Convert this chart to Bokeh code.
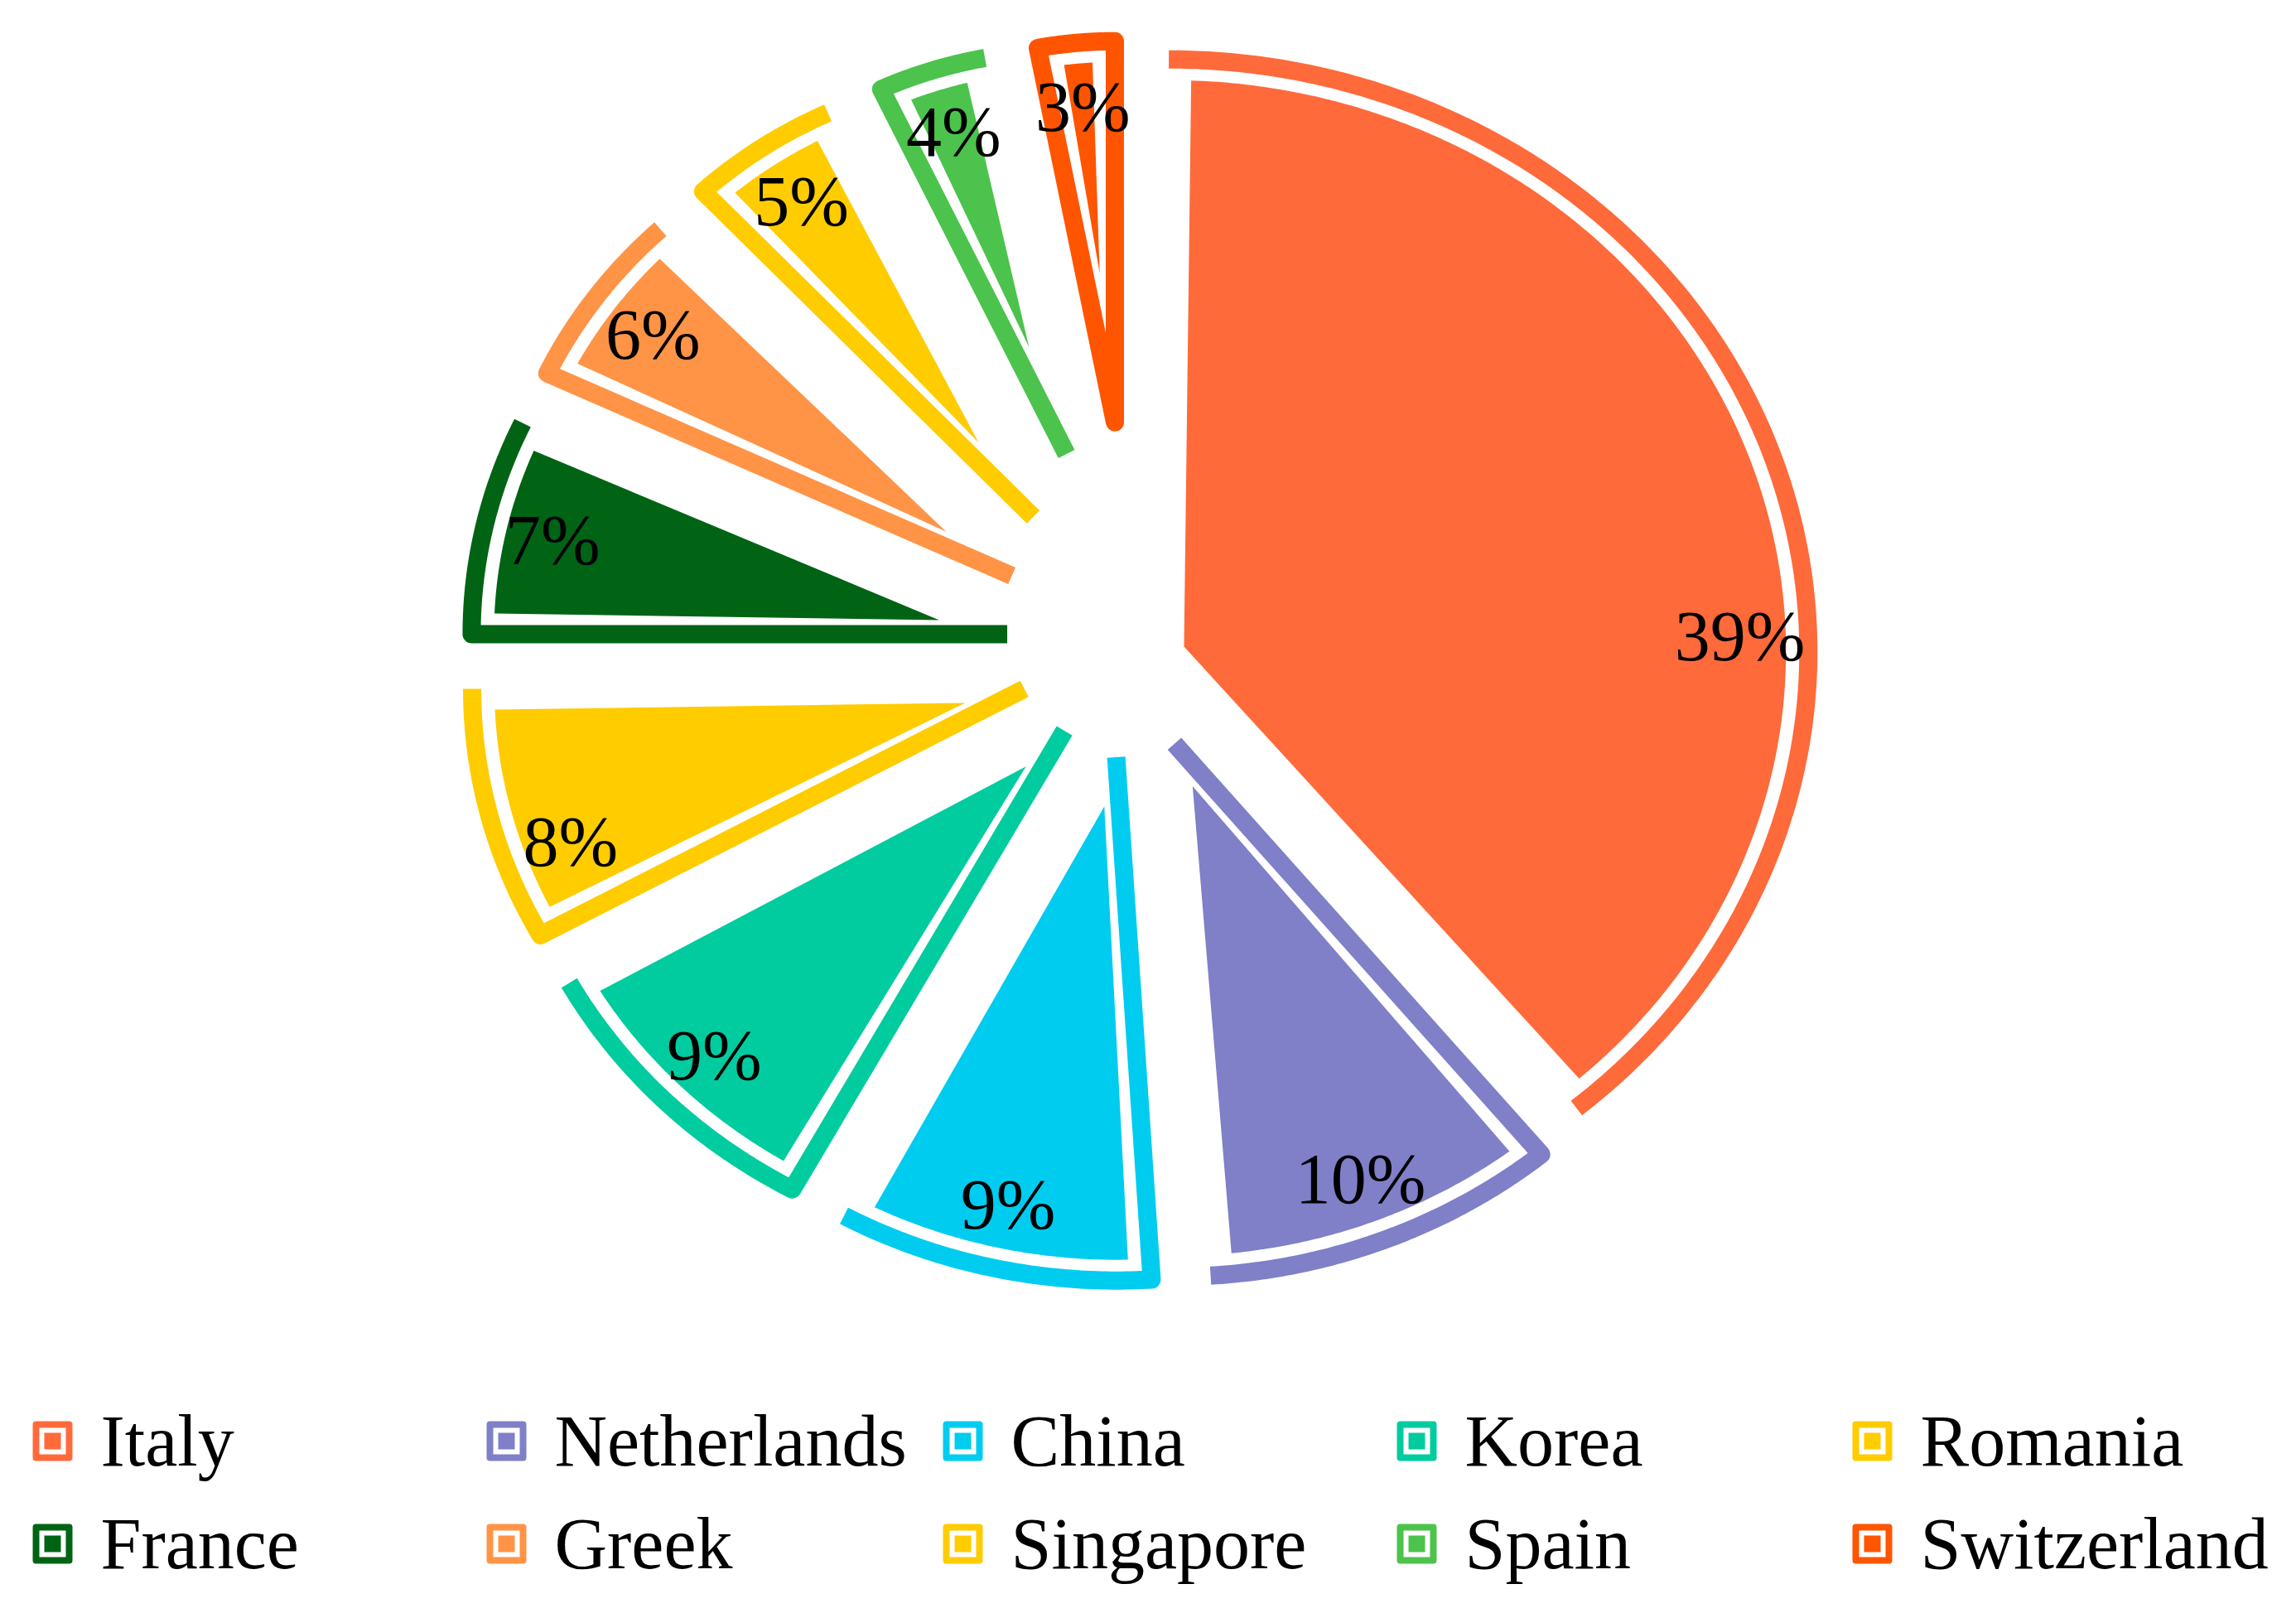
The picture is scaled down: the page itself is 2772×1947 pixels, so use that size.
import numpy as np
from bokeh.plotting import figure
from bokeh.models import Range1d, ColumnDataSource
from bokeh.core.properties import value
from bokeh.embed import file_html
from bokeh.resources import INLINE

# ---------------- data ----------------
countries = ["Italy", "Netherlands", "China", "Korea", "Romania",
             "France", "Greek", "Singapore", "Spain", "Switzerland"]
shares = [39, 10, 9, 9, 8, 7, 6, 5, 4, 3]
pct_labels = ["39%", "10%", "9%", "9%", "8%", "7%", "6%", "5%", "4%", "3%"]

# ---------------- style / layout ----------------
colors = ["#FF6A3B", "#7F80C8", "#00CCF0", "#00CC9F", "#FFCC00",
          "#006414", "#FF9447", "#FFCC00", "#4CC34C", "#FF5500"]
PW, PH = 2756, 1931          # figure size in px
SX = 1.08                    # horizontal stretch of the pie
CX_REF, CY_REF = 1383, 806   # pie centre on the page
R_OUT = 750                  # outer reach of slice outlines
EXPLODE_GAP = 33             # explosion: constant gap between slices
EXPLODE_MAX = 290
BAND_W = 22                  # outline band width
ARC_INSET = 25               # fill inset from outline centre line
TIP_INSET = 17
TIP_CAP = 0.4
LABEL_R = 672
label_angle_adjust = [17.2, 0, 0, 0, -4.5, 0, 0, 0, 0, 0]
outline_style = ["arc", "open", "open", "open", "open", "open", "open", "open", "open", "closed"]
legend_marker_x = [71, 619, 1170, 1718, 2268]
legend_text_dx = 58
legend_row_y = [1747, 1871]
SERIF = "Liberation Serif"


def u(deg):
    r = np.radians(deg)
    return np.array([np.sin(r), np.cos(r)])


def to_dx(xref):
    return (xref - CX_REF) / SX


def to_dy(yref):
    return CY_REF - yref


vals = np.array(shares, dtype=float)
ends = 360.0 * np.cumsum(vals) / vals.sum()
starts = ends - 360.0 * vals / vals.sum()

open_xs, open_ys, open_cols = [], [], []
closed_xs, closed_ys, closed_cols = [], [], []
fill_xs, fill_ys = [], []
lab_x, lab_y = [], []

for i in range(len(shares)):
    ts, te = starts[i], ends[i]
    half = (te - ts) / 2.0
    tb = ts + half
    sa = np.sin(np.radians(half))
    e = min(EXPLODE_GAP / sa, EXPLODE_MAX)
    P = e * u(tb)
    Ro = R_OUT - e
    n = max(int((te - ts) * 2), 12)
    th = np.linspace(ts, te, n)
    arc = np.array([P + Ro * u(t) for t in th])
    style = outline_style[i]
    if style == "arc":
        pts = arc
    else:
        pts = np.vstack([P, arc])
    if style == "closed":
        closed_xs.append(list(pts[:, 0])); closed_ys.append(list(pts[:, 1])); closed_cols.append(colors[i])
    else:
        open_xs.append(list(pts[:, 0])); open_ys.append(list(pts[:, 1])); open_cols.append(colors[i])

    # fill: inset wedge
    r = Ro - ARC_INSET
    d = min(TIP_INSET / sa, TIP_CAP * Ro)
    Q = P + d * u(tb)
    s = np.sqrt(r * r - ARC_INSET ** 2)
    A = P + s * u(ts) + ARC_INSET * u(ts + 90)
    B = P + s * u(te) + ARC_INSET * u(te - 90)
    phA = np.degrees(np.arctan2(A[0] - P[0], A[1] - P[1]))
    phB = np.degrees(np.arctan2(B[0] - P[0], B[1] - P[1]))
    while phA < ts - 90:
        phA += 360
    while phB < phA:
        phB += 360
    ph = np.linspace(phA, phB, n)
    farc = np.array([P + r * u(t) for t in ph])
    poly = np.vstack([Q, farc])
    fill_xs.append(list(poly[:, 0])); fill_ys.append(list(poly[:, 1]))

    L = LABEL_R * u(tb + label_angle_adjust[i])
    lab_x.append(L[0]); lab_y.append(L[1])

p = figure(width=PW, height=PH,
           x_range=Range1d(to_dx(8), to_dx(8 + PW)),
           y_range=Range1d(to_dy(8 + PH), to_dy(8)),
           x_axis_type=None, y_axis_type=None,
           output_backend="svg", toolbar_location=None, min_border=0)
p.grid.visible = False
p.outline_line_color = None
p.background_fill_color = "white"

p.multi_line(xs="xs", ys="ys", line_color="c", line_width=BAND_W,
             line_join="round", line_cap="butt",
             source=ColumnDataSource(dict(xs=open_xs, ys=open_ys, c=open_cols)))
p.patches(xs="xs", ys="ys", line_color="c", fill_color=None, line_width=BAND_W,
          line_join="round",
          source=ColumnDataSource(dict(xs=closed_xs, ys=closed_ys, c=closed_cols)))
p.patches(xs="xs", ys="ys", fill_color="c", line_color=None,
          source=ColumnDataSource(dict(xs=fill_xs, ys=fill_ys, c=colors)))

p.text(x="x", y="y", text="t", source=ColumnDataSource(dict(x=lab_x, y=lab_y, t=pct_labels)),
       text_font=value(SERIF), text_font_size="86px", text_color="black",
       text_align="center", text_baseline="middle")

# legend
mx, my, tx = [], [], []
for i in range(len(countries)):
    row, col = i // 5, i % 5
    mx.append(to_dx(legend_marker_x[col])); my.append(to_dy(legend_row_y[row]))
    tx.append(to_dx(legend_marker_x[col] + legend_text_dx))
leg = ColumnDataSource(dict(mx=mx, my=my, tx=tx, c=colors, t=countries))
p.scatter(x="mx", y="my", marker="square", size=40, fill_color="white",
          line_color="c", line_width=8, line_join="round", source=leg)
p.scatter(x="mx", y="my", marker="square", size=20, fill_color="c", line_color=None, source=leg)
p.text(x="tx", y="my", text="t", source=leg, text_font=value(SERIF), text_font_size="88px",
       text_color="black", text_align="left", text_baseline="middle")

open("out.html", "w").write(file_html(p, INLINE, title="pie"))
